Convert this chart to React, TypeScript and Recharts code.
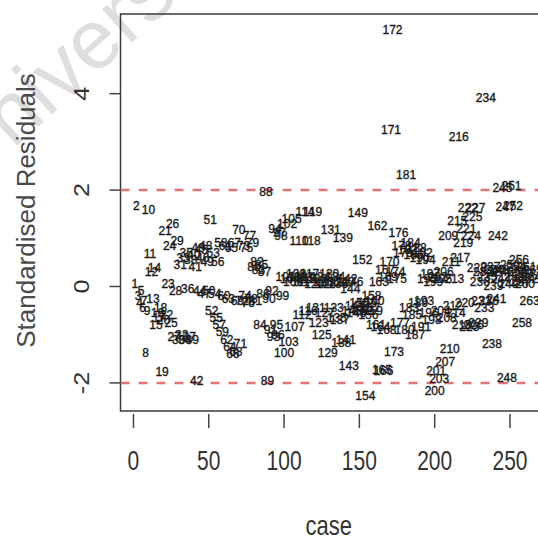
import React from 'react';
import { ScatterChart, Scatter, XAxis, YAxis, ReferenceLine, ReferenceArea, Label } from 'recharts';

// Standardised residuals, cases 1-265 in order
const residualsCases001to050 = [
  0.05, 1.67, -0.2, -0.35, -0.1, -0.45, -0.3, -1.38, -0.5, 1.59,
  0.67, 0.3, -0.25, 0.38, -0.8, -0.55, -0.65, -0.45, -1.78, -0.7,
  1.15, -0.6, 0.05, 0.85, -0.75, 1.3, -1.05, -0.1, 0.95, -1.1,
  0.45, -1.0, 0.6, -1.12, 0.7, -0.05, -1.05, 0.55, -1.1, 0.65,
  0.4, -1.96, 0.8, -0.1, 0.75, 0.6, -0.15, 0.85, 0.5, -0.1,
];
const residualsCases051to100 = [
  1.38, -0.5, 0.7, -0.15, -0.65, 0.5, -0.8, 0.9, -0.95, -0.2,
  0.85, -1.1, -0.25, -1.25, 0.8, -1.4, 0.9, -1.35, -0.3, 1.17,
  -1.2, -0.3, 0.85, -0.2, 0.8, -0.35, 1.05, -0.25, 0.9, 0.4,
  -0.3, 0.5, 0.35, -0.8, 0.45, -0.15, 0.3, 1.97, -1.96, -0.25,
  -0.9, -0.1, -1.05, 1.2, -0.8, -1.0, 1.1, 1.05, -0.2, -1.38,
];
const residualsCases101to150 = [
  0.2, 1.3, -1.15, 0.15, 1.4, 0.1, -0.85, 0.25, 0.2, 0.95,
  0.1, -0.6, 0.2, 1.55, 0.15, -0.5, 0.25, 0.95, 1.55, 0.05,
  -0.45, 0.15, -0.75, 0.2, -1.0, 0.1, -0.55, 0.05, -1.38, 0.25,
  1.17, 0.1, -0.45, 0.2, -0.65, 0.05, -0.7, -1.17, 1.0, 0.1,
  -1.1, 0.15, -1.65, -0.05, -0.5, 0.1, -0.4, -0.55, 1.52, -0.35,
];
const residualsCases151to200 = [
  -0.45, 0.55, -0.5, -2.27, -0.35, -0.6, -0.45, -0.2, -0.5, -0.3,
  -0.8, 1.25, 0.1, -0.85, -1.73, -1.76, 0.35, -0.9, 0.2, 0.5,
  3.25, 5.32, -1.35, 0.3, 0.15, 1.1, -0.75, 0.85, 0.7, -0.9,
  2.31, 0.75, -0.45, 0.9, -0.6, 0.65, -1.0, 0.8, -0.35, 0.6,
  -0.85, 0.7, -0.3, 0.55, 0.15, -0.55, 0.25, -0.7, 0.1, -2.17,
];
const residualsCases201to265 = [
  -1.75, 0.2, -1.92, -0.5, 0.15, 0.3, -1.57, -0.65, 1.05, -1.3,
  0.5, -0.4, 0.15, -0.55, 1.35, 3.1, 0.6, -0.8, 0.9, -0.35,
  1.2, 1.62, -0.85, 1.05, 1.45, -0.8, 1.62, 0.38, -0.75, 0.1,
  -0.3, 0.3, -0.45, 3.91, 0.2, -0.3, 0.4, -1.2, 0.0, 0.35,
  -0.25, 1.05, 0.35, 0.15, 2.05, 0.3, 1.65, -1.9, 0.05, 0.45,
  2.08, 1.68, 0.2, 0.4, 0.3, 0.55, 0.1, -0.75, 0.25, 0.05,
  0.4, 0.15, -0.3, 0.2, 0.35,
];

const xTicks = [0, 50, 100, 150, 200, 250];
const yTicks = [-2, 0, 2, 4];
const cutoffLines = [2, -2];
const xDomain: [number, number] = [-8.6, 270.6];
const yDomain: [number, number] = [-2.583, 5.653];

const residuals = [
  ...residualsCases001to050,
  ...residualsCases051to100,
  ...residualsCases101to150,
  ...residualsCases151to200,
  ...residualsCases201to265,
];

const points = residuals.map((r, i) => ({ caseNo: i + 1, resid: r }));

const FONT = '"Liberation Sans", Arial, Helvetica, sans-serif';

const CaseText = (props: any) => {
  const { cx, cy, payload } = props;
  return (
    <text
      x={cx}
      y={cy}
      textAnchor="middle"
      dominantBaseline="central"
      fontSize={12}
      fontFamily={FONT}
      fill="#1a1a1a"
      stroke="#1a1a1a"
      strokeWidth={0.35}
    >
      {payload.caseNo}
    </text>
  );
};

const XTick = (props: any) => {
  const { x, y, payload } = props;
  return (
    <g>
      <line x1={x} x2={x} y1={y + 3} y2={y + 17} stroke="#444" strokeWidth={1.5} />
      <text
        transform={`translate(${x},${y + 49}) scale(1,1.3)`}
        textAnchor="middle"
        dominantBaseline="central"
        fontSize={21}
        fontFamily={FONT}
        fill="#333"
      >
        {payload.value}
      </text>
    </g>
  );
};

const YTick = (props: any) => {
  const { x, y, payload } = props;
  return (
    <g>
      <line x1={x - 11} x2={x} y1={y} y2={y} stroke="#444" strokeWidth={1.5} />
      <text
        transform={`translate(${x - 38.5},${y}) rotate(-90) scale(1.15,1)`}
        textAnchor="middle"
        dominantBaseline="central"
        fontSize={22}
        fontFamily={FONT}
        fill="#333"
      >
        {payload.value}
      </text>
    </g>
  );
};

const XTitle = (props: any) => {
  const { viewBox } = props;
  return (
    <text
      transform={`translate(${viewBox.x + viewBox.width / 2 - 2},${viewBox.y + 114}) scale(1,1.25)`}
      textAnchor="middle"
      dominantBaseline="central"
      fontSize={22}
      fontFamily={FONT}
      fill="#333"
    >
      case
    </text>
  );
};

const YTitle = (props: any) => {
  const { viewBox } = props;
  return (
    <text
      transform={`translate(${viewBox.x + 26},${viewBox.y + viewBox.height / 2 - 2}) rotate(-90)`}
      textAnchor="middle"
      dominantBaseline="central"
      fontSize={26}
      fontFamily={FONT}
      fill="#4a4a4a"
    >
      Standardised Residuals
    </text>
  );
};

export default function App() {
  return (
    <div
      style={{
        position: 'fixed',
        left: 0,
        top: 0,
        width: 538,
        height: 542,
        overflow: 'hidden',
        background: '#fff',
      }}
    >
      <svg width={538} height={542} style={{ position: 'absolute', left: 0, top: 0 }}>
        <text
          transform="translate(-32,190) rotate(-42)"
          fontSize={84}
          fontFamily={FONT}
          fill="#dedede"
        >
          University
        </text>
      </svg>
      <div style={{ position: 'absolute', left: 0, top: 0 }}>
        <ScatterChart
          width={552}
          height={542}
          margin={{ top: 14, right: 11, bottom: 0, left: 0 }}
        >
          <XAxis
            type="number"
            dataKey="caseNo"
            domain={xDomain}
            ticks={xTicks}
            allowDataOverflow
            axisLine={false}
            tickLine={false}
            tickSize={0}
            tickMargin={0}
            height={131}
            tick={<XTick />}
          >
            <Label content={<XTitle />} />
          </XAxis>
          <YAxis
            type="number"
            dataKey="resid"
            domain={yDomain}
            ticks={yTicks}
            allowDataOverflow
            axisLine={false}
            tickLine={false}
            tickSize={0}
            tickMargin={0}
            width={120.5}
            tick={<YTick />}
          >
            <Label content={<YTitle />} />
          </YAxis>
          <ReferenceArea
            x1={xDomain[0]}
            x2={xDomain[1]}
            y1={yDomain[0]}
            y2={yDomain[1]}
            fill="none"
            stroke="#3a3a3a"
            strokeWidth={1.5}
            ifOverflow="visible"
          />
          <Scatter data={points} shape={<CaseText />} isAnimationActive={false} />
          {cutoffLines.map((v) => (
            <ReferenceLine
              key={v}
              y={v}
              stroke="#e25a5e"
              strokeWidth={2.5}
              strokeDasharray="9 9"
              strokeOpacity={0.85}
            />
          ))}
        </ScatterChart>
      </div>
    </div>
  );
}
